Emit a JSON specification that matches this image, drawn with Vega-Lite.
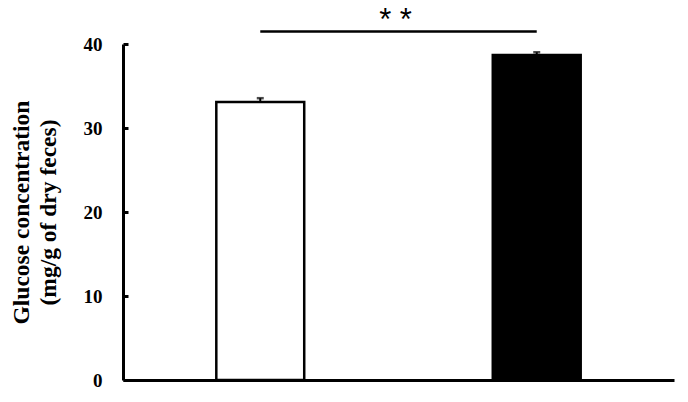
{
  "$schema": "https://vega.github.io/schema/vega-lite/v6.json",
  "autosize": {"type": "none"},
  "padding": {"left": 123, "top": 44, "right": 14, "bottom": 22},
  "width": 551,
  "height": 336,
  "background": "white",
  "datasets": {
    "glucose": [
      {"group": "Control", "glucose": 33.1, "upper": 33.55},
      {"group": "Treated", "glucose": 38.7, "upper": 39.02}
    ],
    "signif": [
      {"from": "Control", "to": "Treated", "y": 41.5, "label": "* *"}
    ]
  },
  "layer": [
    {
      "data": {"name": "glucose"},
      "mark": {"type": "bar", "stroke": "black", "strokeWidth": 2.5},
      "encoding": {
        "x": {
          "field": "group", "type": "nominal",
          "scale": {"type": "band", "paddingInner": 0.682, "paddingOuter": 0.3375},
          "axis": {"labels": false, "ticks": false, "title": null, "domainWidth": 3, "domainColor": "black"}
        },
        "y": {
          "field": "glucose", "type": "quantitative",
          "scale": {"domain": [0, 40], "nice": false},
          "axis": {
            "values": [0, 10, 20, 30, 40],
            "title": ["Glucose concentration", "(mg/g of dry feces)"]
          }
        },
        "fill": {
          "field": "group", "type": "nominal",
          "scale": {"range": ["white", "black"]},
          "legend": null
        }
      }
    },
    {
      "data": {"name": "glucose"},
      "mark": {"type": "rule", "color": "black", "strokeWidth": 2},
      "encoding": {
        "x": {"field": "group", "type": "nominal"},
        "y": {"field": "glucose", "type": "quantitative"},
        "y2": {"field": "upper"}
      }
    },
    {
      "data": {"name": "glucose"},
      "mark": {"type": "tick", "color": "black", "size": 7, "thickness": 2.5},
      "encoding": {
        "x": {"field": "group", "type": "nominal"},
        "y": {"field": "upper", "type": "quantitative"}
      }
    },
    {
      "data": {"name": "signif"},
      "mark": {"type": "rule", "color": "black", "strokeWidth": 2.5},
      "encoding": {
        "x": {"field": "from", "type": "nominal"},
        "x2": {"field": "to"},
        "y": {"field": "y", "type": "quantitative"}
      }
    },
    {
      "data": {"name": "signif"},
      "mark": {
        "type": "text", "font": "Liberation Sans", "fontSize": 31,
        "baseline": "alphabetic", "align": "center", "color": "black", "dy": -1
      },
      "encoding": {
        "x": {"value": {"expr": "(scale('x', 'Control') + scale('x', 'Treated') + bandwidth('x')) / 2 - 3"}},
        "y": {"field": "y", "type": "quantitative"},
        "text": {"field": "label"}
      }
    }
  ],
  "config": {
    "view": {"stroke": null},
    "axisY": {
      "grid": false,
      "domainWidth": 3,
      "domainColor": "black",
      "tickColor": "black",
      "tickWidth": 3,
      "tickSize": -5,
      "labelFont": "Liberation Serif",
      "labelFontWeight": "bold",
      "labelFontSize": 19,
      "labelColor": "black",
      "labelPadding": 26,
      "titleFont": "Liberation Serif",
      "titleFontWeight": "bold",
      "titleFontSize": 23.5,
      "titleColor": "black",
      "titleLineHeight": 27,
      "titlePadding": 23
    }
  }
}
